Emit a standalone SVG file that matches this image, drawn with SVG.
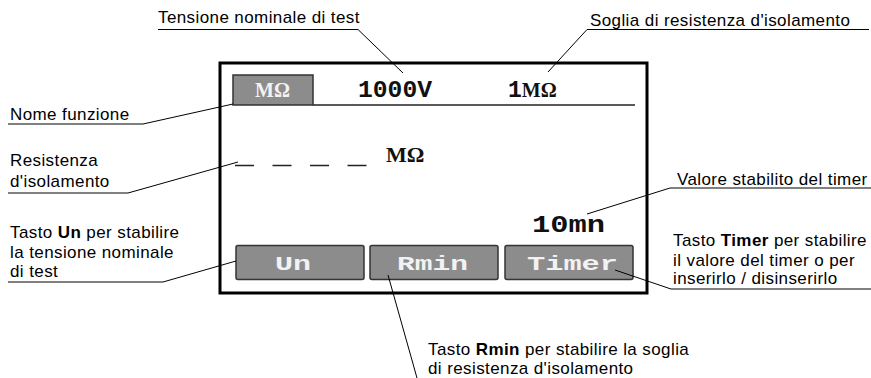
<svg xmlns="http://www.w3.org/2000/svg" width="871" height="378" viewBox="0 0 871 378">
<style>
.lbl{font-family:"Liberation Sans",Arial,sans-serif;font-size:17px;letter-spacing:0.4px;fill:#000}
.b{font-weight:bold}
.ul{stroke:#000;stroke-width:1;fill:none}
.mono{font-family:"Liberation Mono","Courier New",monospace;font-weight:bold}
.serif{font-family:"Liberation Serif","Times New Roman",serif;font-weight:bold}
.btn{fill:#8c8c8c;stroke:#333;stroke-width:1.5}
.btxt{fill:#f2f2f2;font-size:21px}
.dtxt{fill:#111;font-size:23px}
</style>
<rect width="871" height="378" fill="#fff"/>
<g id="display">
<rect x="220" y="63" width="427" height="230" fill="none" stroke="#000" stroke-width="3"/>
<line x1="313" y1="105" x2="635" y2="105" stroke="#222" stroke-width="1.5"/>
</g>
<g id="function-name">
<rect class="btn" x="233" y="75" width="80" height="30" stroke="#444"/>
<text class="serif" x="272.5" y="97" font-size="20" fill="#f2f2f2" text-anchor="middle">MΩ</text>
</g>
<g id="nominal-voltage">
<text class="mono dtxt" x="395" y="97" text-anchor="middle" textLength="74" lengthAdjust="spacingAndGlyphs">1000V</text>
</g>
<g id="threshold">
<text x="508" y="97" fill="#111"><tspan class="mono" font-size="23">1</tspan><tspan class="serif" font-size="20">MΩ</tspan></text>
</g>
<g id="resistance">
<path d="M235 165.5H367" stroke="#222" stroke-width="1.5" stroke-dasharray="19 18.5"/>
<text class="serif" x="386" y="162" font-size="22" fill="#111">MΩ</text>
</g>
<g id="timer-value">
<text class="mono dtxt" x="568.5" y="232" text-anchor="middle" textLength="73" lengthAdjust="spacingAndGlyphs">10mn</text>
</g>
<g id="btn-un">
<rect class="btn" x="236" y="245.5" width="128" height="34" rx="2"/>
<text class="mono btxt" x="293" y="270" text-anchor="middle" textLength="36" lengthAdjust="spacingAndGlyphs">Un</text>
</g>
<g id="btn-rmin">
<rect class="btn" x="370" y="245.5" width="128" height="34" rx="2"/>
<text class="mono btxt" x="432.5" y="270" text-anchor="middle" textLength="71" lengthAdjust="spacingAndGlyphs">Rmin</text>
</g>
<g id="btn-timer">
<rect class="btn" x="505" y="245.5" width="128" height="34" rx="2"/>
<text class="mono btxt" x="572.5" y="270" text-anchor="middle" textLength="91" lengthAdjust="spacingAndGlyphs">Timer</text>
</g>
<g id="label-tensione">
<text class="lbl" x="158" y="23">Tensione nominale di test</text>
</g>
<g id="label-soglia">
<text class="lbl" x="590" y="26">Soglia di resistenza d'isolamento</text>
</g>
<g id="label-nome">
<text class="lbl" x="10" y="120">Nome funzione</text>
</g>
<g id="label-resistenza">
<text class="lbl" x="10" y="166">Resistenza</text>
<text class="lbl" x="10" y="187">d'isolamento</text>
</g>
<g id="label-un">
<text class="lbl" x="10" y="238">Tasto <tspan class="b">Un</tspan> per stabilire</text>
<text class="lbl" x="10" y="258">la tensione nominale</text>
<text class="lbl" x="10" y="277">di test</text>
</g>
<g id="label-valore">
<text class="lbl" x="677" y="185">Valore stabilito del timer</text>
</g>
<g id="label-timer">
<text class="lbl" x="673" y="246">Tasto <tspan class="b">Timer</tspan> per stabilire</text>
<text class="lbl" x="673" y="266">il valore del timer o per</text>
<text class="lbl" x="673" y="284">inserirlo / disinserirlo</text>
</g>
<g id="label-rmin">
<text class="lbl" x="428" y="355">Tasto <tspan class="b">Rmin</tspan> per stabilire la soglia</text>
<text class="lbl" x="428" y="374">di resistenza d'isolamento</text>
</g>
<g id="connectors" class="ul">
<polyline points="158,29.5 358,29.5 403,73"/>
<polyline points="869,29.5 587,29.5 548,72"/>
<polyline points="8,124 143,124 233,104"/>
<polyline points="8,193 128,193 238,162"/>
<polyline points="8,282 163,282 236,261"/>
<polyline points="871,188 670,188 587,214"/>
<polyline points="871,289 671,289 615,270"/>
<line x1="388" y1="275" x2="417" y2="378"/>
</g>
</svg>
